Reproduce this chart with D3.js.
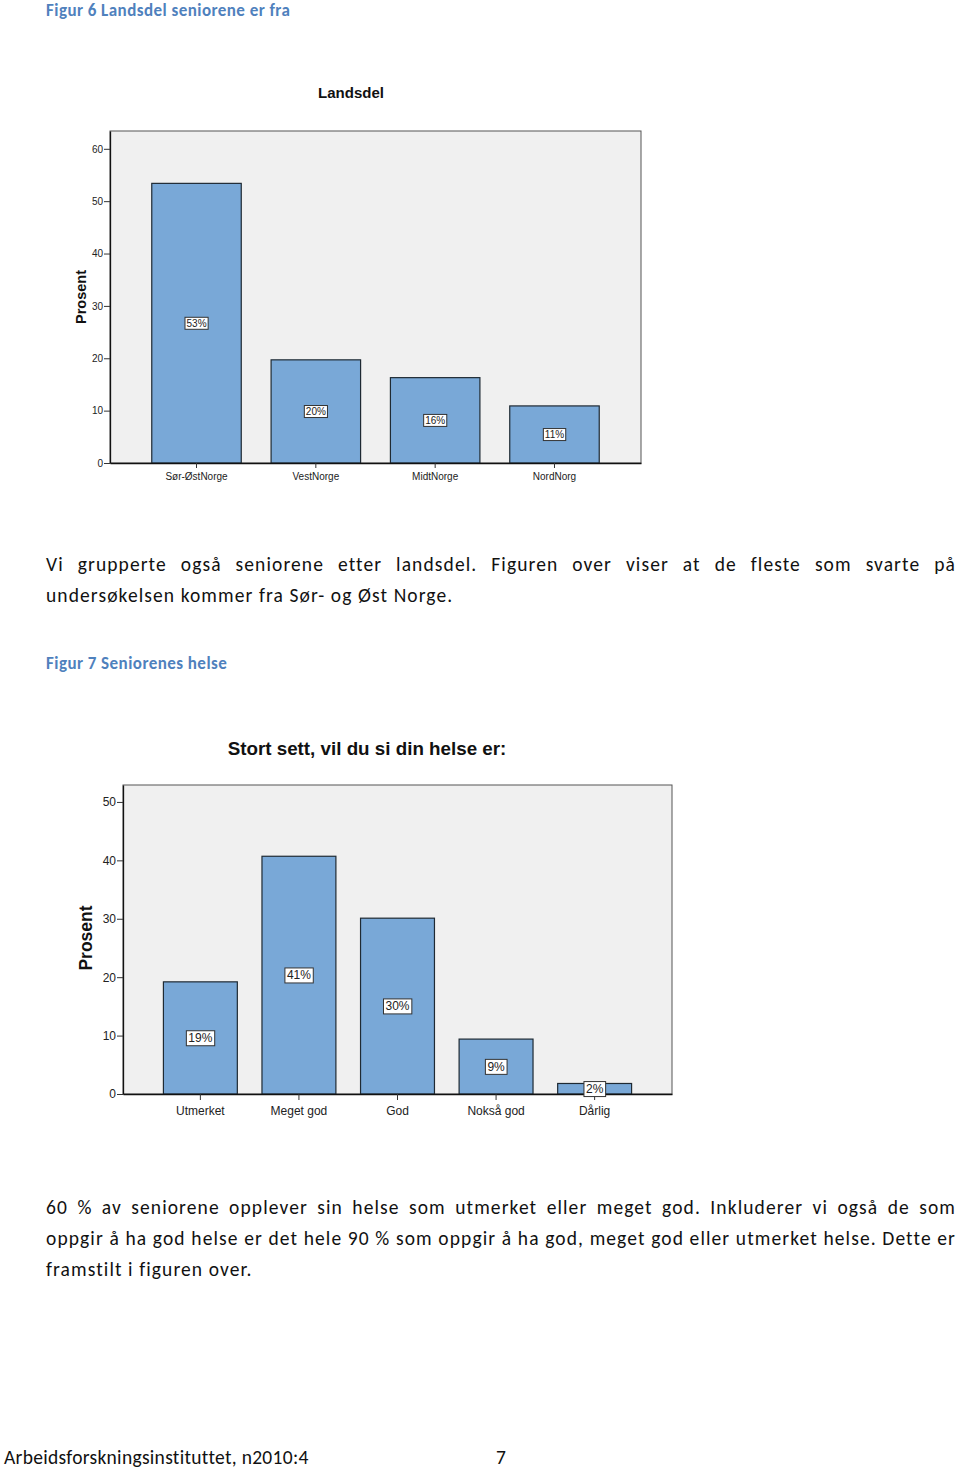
<!DOCTYPE html>
<html>
<head>
<meta charset="utf-8">
<script src="https://cdn.jsdelivr.net/npm/d3@7/dist/d3.min.js"></script>
<style>
  html, body { margin: 0; padding: 0; background: #fff; }
  svg { display: block; }
</style>
</head>
<body>
<svg id="page" width="960" height="1469"></svg>
<script>
// ---- Data ----
const regionTitle = "Landsdel";
const regionCategories = ["Sør-ØstNorge", "VestNorge", "MidtNorge", "NordNorg"];
const regionValues = [53.4, 19.7, 16.3, 10.9];
const regionLabels = ["53%", "20%", "16%", "11%"];
const regionTicks = [0, 10, 20, 30, 40, 50, 60];

const healthTitle = "Stort sett, vil du si din helse er:";
const healthCategories = ["Utmerket", "Meget god", "God", "Nokså god", "Dårlig"];
const healthValues = [19.2, 40.7, 30.1, 9.4, 1.8];
const healthLabels = ["19%", "41%", "30%", "9%", "2%"];
const healthTicks = [0, 10, 20, 30, 40, 50];

const yAxisTitle = "Prosent";

const caption1 = "Figur 6 Landsdel seniorene er fra";
const caption2 = "Figur 7 Seniorenes helse";
const paragraph1 = [
  "Vi grupperte også seniorene etter landsdel. Figuren over viser at de fleste som svarte på",
  "undersøkelsen kommer fra Sør- og Øst Norge."
];
const paragraph2 = [
  "60 % av seniorene opplever sin helse som utmerket eller meget god. Inkluderer vi også de som",
  "oppgir å ha god helse er det hele 90 % som oppgir å ha god, meget god eller utmerket helse. Dette er",
  "framstilt i figuren over."
];
const footerLeft = "Arbeidsforskningsinstituttet, n2010:4";
const footerPage = "7";

// ---- Drawing ----
const svg = d3.select("#page");
const chartFont = "'Liberation Sans', Arial, sans-serif";
const docFont = "Carlito, Lato, 'Open Sans', sans-serif";
const barFill = "#79a8d7";
const plotBg = "#f0f0f0";

function drawChart(o) {
  const g = svg.append("g");
  const x = d3.scaleBand().domain(o.categories).range([o.left, o.right])
    .paddingInner(0.25).paddingOuter(o.paddingOuter);
  const y = d3.scaleLinear().domain([0, o.yMax]).range([o.bottom, o.top]);

  g.append("rect")
    .attr("x", o.left).attr("y", o.top)
    .attr("width", o.right - o.left).attr("height", o.bottom - o.top)
    .attr("fill", plotBg).attr("stroke", "#555").attr("stroke-width", 1);

  g.selectAll("rect.bar").data(o.values).join("rect")
    .attr("class", "bar")
    .attr("x", (d, i) => x(o.categories[i]))
    .attr("y", d => y(d))
    .attr("width", x.bandwidth())
    .attr("height", d => y(0) - y(d))
    .attr("fill", barFill).attr("stroke", "#1f2a33").attr("stroke-width", 1.2);

  const yAxis = d3.axisLeft(y).tickValues(o.ticks).tickSize(6).tickPadding(1).tickSizeOuter(0);
  const ya = g.append("g").attr("transform", `translate(${o.left},0)`).call(yAxis);
  ya.select(".domain").attr("stroke", "#111").attr("stroke-width", 1.3);
  ya.selectAll(".tick line").attr("stroke", "#333");
  ya.selectAll(".tick text").attr("font-family", chartFont).attr("font-size", o.tickSize).attr("fill", "#222");

  const xAxis = d3.axisBottom(x).tickSize(o.xTick).tickPadding(o.xPad).tickSizeOuter(0);
  const xa = g.append("g").attr("transform", `translate(0,${o.bottom})`).call(xAxis);
  xa.select(".domain").attr("stroke", "#111").attr("stroke-width", 1.6);
  xa.selectAll(".tick line").attr("stroke", "#333");
  xa.selectAll(".tick text").attr("font-family", chartFont).attr("font-size", o.catSize).attr("fill", "#222");

  const lab = g.selectAll("g.lab").data(o.values).join("g").attr("class", "lab")
    .attr("transform", (d, i) => `translate(${x(o.categories[i]) + x.bandwidth() / 2},${y(d / 2)})`);
  lab.append("text")
    .attr("text-anchor", "middle").attr("dy", "0.36em")
    .attr("font-family", chartFont).attr("font-size", o.labelSize).attr("fill", "#222")
    .text((d, i) => o.labels[i]);
  lab.each(function () {
    const t = d3.select(this).select("text");
    const bb = t.node().getBBox();
    d3.select(this).insert("rect", "text")
      .attr("x", bb.x - o.boxPad).attr("y", bb.y - 0.5)
      .attr("width", bb.width + 2 * o.boxPad).attr("height", bb.height + 1)
      .attr("fill", "#fff").attr("stroke", "#333").attr("stroke-width", 1);
  });

  g.append("text").attr("x", o.titleX).attr("y", o.titleY)
    .attr("text-anchor", "middle").attr("font-family", chartFont)
    .attr("font-weight", "bold").attr("font-size", o.titleSize).attr("fill", "#111")
    .text(o.title);

  g.append("text")
    .attr("transform", `translate(${o.yTitleX},${o.yTitleY}) rotate(-90)`)
    .attr("text-anchor", "middle").attr("font-family", chartFont)
    .attr("font-weight", "bold").attr("font-size", o.yTitleSize).attr("fill", "#111")
    .text(yAxisTitle);
}

drawChart({
  categories: regionCategories, values: regionValues, labels: regionLabels, ticks: regionTicks,
  title: regionTitle, left: 110, right: 641, top: 131, bottom: 463, yMax: 63.4, paddingOuter: 0.35,
  tickSize: 10, catSize: 10, labelSize: 10, xTick: 5, xPad: 5, boxPad: 1.5,
  titleX: 351, titleY: 98, titleSize: 15,
  yTitleX: 86, yTitleY: 297, yTitleSize: 14.5
});

drawChart({
  categories: healthCategories, values: healthValues, labels: healthLabels, ticks: healthTicks,
  title: healthTitle, left: 123, right: 672, top: 785, bottom: 1094, yMax: 52.9, paddingOuter: 0.41,
  tickSize: 12, catSize: 12, labelSize: 12, xTick: 6, xPad: 6, boxPad: 2,
  titleX: 367, titleY: 755, titleSize: 18.8,
  yTitleX: 92, yTitleY: 938, yTitleSize: 17.5
});

// ---- Document text ----
function caption(text, yb) {
  svg.append("text").attr("x", 46).attr("y", yb)
    .attr("font-family", docFont).attr("font-weight", "bold").attr("font-size", 17)
    .attr("letter-spacing", 0.45)
    .attr("fill", "#4f81bd").text(text);
}
caption(caption1, 16);
caption(caption2, 669);

function paragraph(lines, y0, lh) {
  lines.forEach((line, i) => {
    const t = svg.append("text").attr("x", 46).attr("y", y0 + i * lh)
      .attr("font-family", docFont).attr("font-size", 19.5).attr("letter-spacing", 1.1)
      .attr("fill", "#111")
      .text(line);
    if (i < lines.length - 1) {
      const natural = t.node().getComputedTextLength();
      const gaps = line.split(" ").length - 1;
      const extra = (956 - 46 - natural) / gaps;
      t.attr("word-spacing", extra);
    }
  });
}
paragraph(paragraph1, 571, 31);
paragraph(paragraph2, 1214, 31);

svg.append("text").attr("x", 4).attr("y", 1464)
  .attr("font-family", docFont).attr("font-size", 19.5).attr("letter-spacing", 0.3)
  .attr("fill", "#111").text(footerLeft);
svg.append("text").attr("x", 496).attr("y", 1464)
  .attr("font-family", docFont).attr("font-size", 19.5).attr("fill", "#111").text(footerPage);
</script>
</body>
</html>
